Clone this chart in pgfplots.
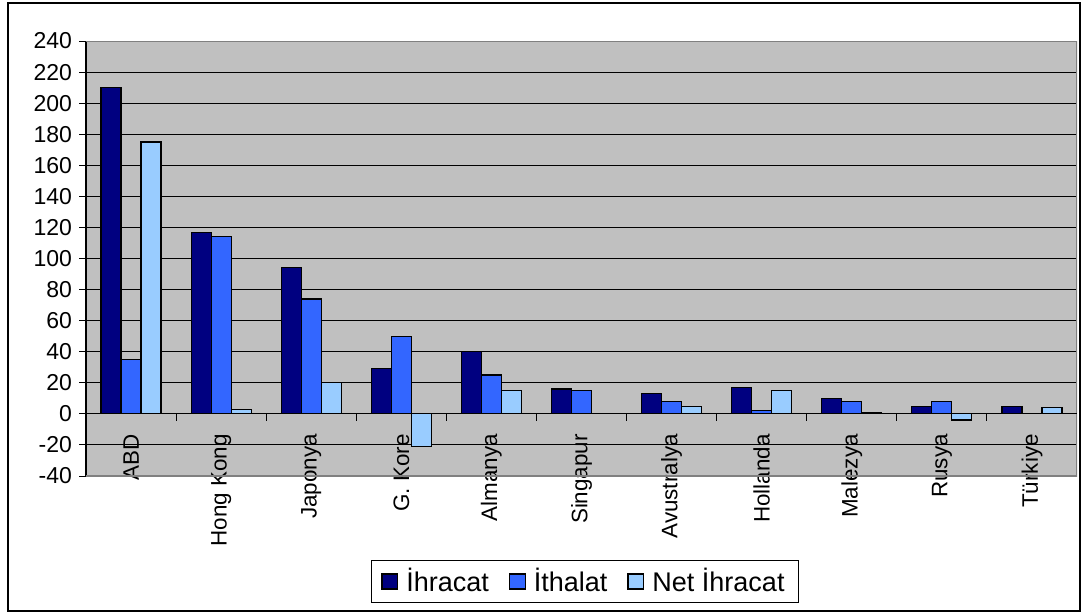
\documentclass[border=0pt]{standalone}
\usepackage{fontspec}
\setmainfont{Liberation Sans}
\usepackage{pgfplots}
\pgfplotsset{compat=1.18}
\definecolor{ihr}{HTML}{000080}
\definecolor{ith}{HTML}{3366FF}
\definecolor{net}{HTML}{99CCFF}
\definecolor{plotgray}{HTML}{C0C0C0}
\definecolor{bordergray}{HTML}{808080}
\pgfplotsset{
  sqlegend/.style={legend image code/.code={%
    \draw[draw=black,fill=#1,line width=0.7pt] (0pt,-3.7pt) rectangle (7.8pt,3.7pt);}},
}
\begin{document}
\begin{tikzpicture}
\useasboundingbox (0,0) rectangle (540.5pt,-306pt);
\draw[line width=1pt] (4pt,-1.5pt) rectangle (540pt,-305.5pt);
\begin{axis}[
    at={(43pt,-238pt)}, anchor=south west,
    scale only axis, width=495.5pt, height=217.5pt,
    xmin=-0.5, xmax=10.5, ymin=-40, ymax=240,
    axis x line*=middle, axis y line*=left,
    axis line style={black, line width=0.6pt},
    axis background/.style={fill=plotgray},
    ybar, bar width=0.222,
    xtick={0,...,10},
    xticklabels={ABD,Hong Kong,Japonya,G. Kore,Almanya,Singapur,Avustralya,Hollanda,Malezya,Rusya,Türkiye},
    xtick style={draw=none},
    xticklabel style={rotate=90, anchor=east, font=\fontsize{11.2}{13}\selectfont, inner ysep=1pt, inner xsep=6.5pt},
    ytick={-40,-20,...,240},
    ytick style={black, line width=0.5pt},
    tick align=outside, major tick length=3.5pt,
    yticklabel style={font=\fontsize{11.5}{13}\selectfont},
    /pgf/number format/assume math mode=true,
    ymajorgrids, grid style={black, line width=0.5pt},
    legend style={at={(axis description cs:0.5035,-0.2425)}, anchor=center,
      draw=black, fill=white, line width=0.5pt, legend columns=3,
      font=\fontsize{13.5}{15}\selectfont, inner ysep=2pt, inner xsep=5pt,
      /tikz/every odd column/.append style={column sep=2pt},
      /tikz/every even column/.append style={column sep=8pt}},
]
\addplot[fill=ihr, draw=black, line width=0.6pt, bar shift=-0.222, sqlegend=ihr] coordinates {
  (0,210) (1,117) (2,94) (3,29) (4,40) (5,16) (6,13) (7,17) (8,10) (9,5) (10,5)};
\addlegendentry{İhracat}
\addplot[fill=ith, draw=black, line width=0.6pt, bar shift=0, sqlegend=ith] coordinates {
  (0,35) (1,114) (2,74) (3,50) (4,25) (5,15) (6,8) (7,2) (8,8) (9,8) (10,0)};
\addlegendentry{İthalat}
\addplot[fill=net, draw=black, line width=0.6pt, bar shift=0.222, sqlegend=net] coordinates {
  (0,175) (1,3) (2,20) (3,-21) (4,15) (5,0) (6,5) (7,15) (8,1) (9,-4) (10,4)};
\addlegendentry{Net İhracat}
\draw[bordergray, line width=0.6pt] (rel axis cs:0,1) -- (rel axis cs:1,1) -- (rel axis cs:1,0) -- (rel axis cs:0,0);
\draw[black, line width=0.6pt] (axis cs:-0.5,0) -- (axis cs:10.5,0);
\pgfplotsinvokeforeach{0.5,1.5,...,9.5}{
  \draw[black, line width=0.5pt] (axis cs:#1,0) -- ([yshift=-3.5pt]axis cs:#1,0);
}
\end{axis}
\end{tikzpicture}
\end{document}
